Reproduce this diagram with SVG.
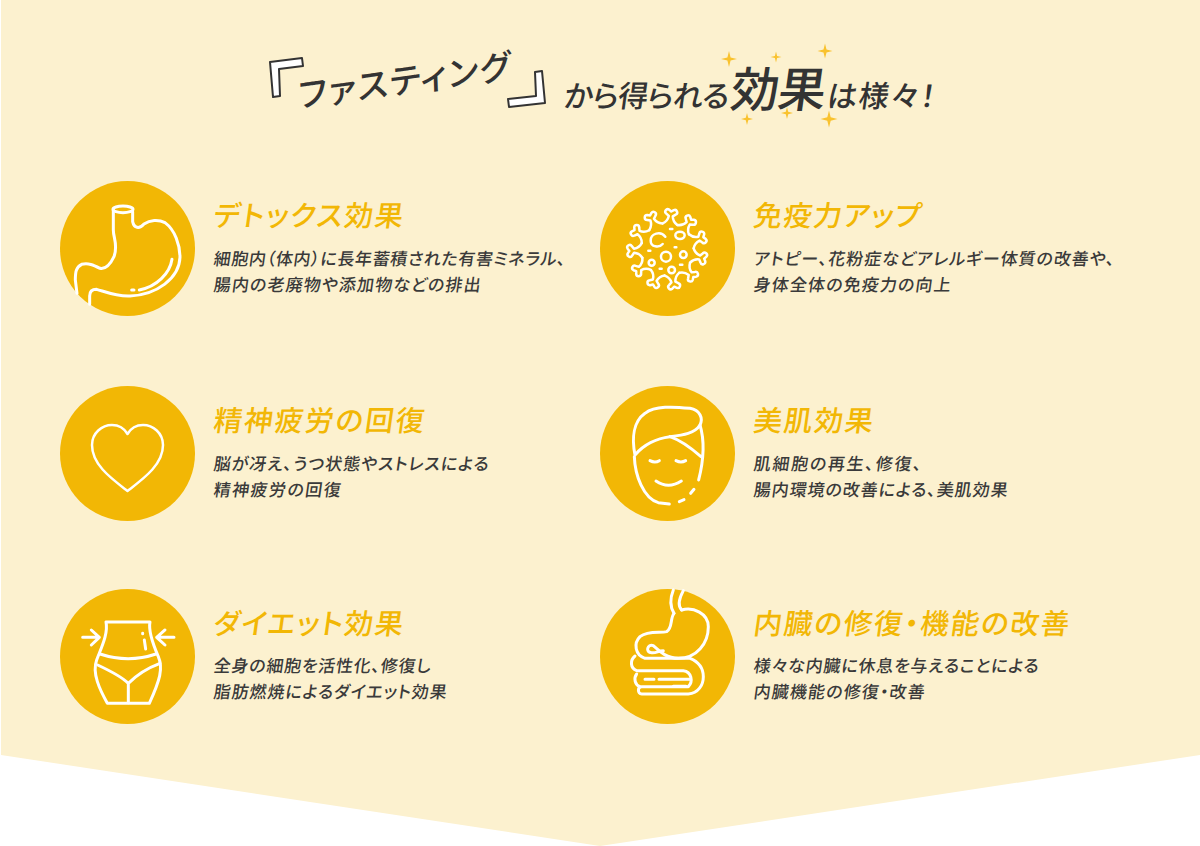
<svg xmlns="http://www.w3.org/2000/svg" xmlns:xlink="http://www.w3.org/1999/xlink" width="1200" height="846" viewBox="0 0 1200 846">
<style>
text{font-family:"Noto Sans CJK JP","Noto Sans",sans-serif;font-feature-settings:"palt"}
.h{font-size:28.500px;fill:#f2b705;font-weight:500}
.b{font-size:17px;fill:#3a3a3a;font-weight:500}
.t{fill:#333;font-weight:500}
.c{fill:#f2b705}
.i{fill:none;stroke:#fff;stroke-width:9;stroke-linecap:round;stroke-linejoin:round}
.s{fill:#f9c22e}
.br{fill:#fff;stroke:#333;stroke-width:2;stroke-linejoin:round}
</style>
<defs>
<path id="spike" d="M-22,-76 Q-8,-84 -6,-100 L-14,-106 A7,7 0 0 1 -7,-119 L0,-114 L7,-119 A7,7 0 0 1 14,-106 L6,-100 Q8,-84 22,-76"/>
<path id="sp" d="M0,-1L.2,-.2L1,0L.2,.2L0,1L-.2,.2L-1,0L-.2,-.2Z"/>
</defs>
<polygon points="1,0 1200,0 1200,755 600,846 1,755" fill="#fcf1cf"/>
<g id="title">
<path class="br" d="M270,62L302,58L303,66L279,69L280,96L273,97Z"/>
<path class="br" d="M535,72L542,71L545,103L509,107L508,99L536,96Z"/>
<text class="t" font-size="34" font-weight="700" transform="translate(299,108) rotate(-8) skewX(-6)" textLength="214">ファスティング</text>
<text class="t" font-size="30" transform="translate(563,107) skewX(-8)" textLength="165">から得られる</text>
<text class="t" font-size="48" font-weight="700" transform="translate(729,107) skewX(-8)" textLength="95">効果</text>
<text class="t" font-size="30" transform="translate(826,107) skewX(-8)" textLength="108">は様々！</text>
<g class="s">
<use xlink:href="#sp" transform="translate(729,59) scale(8)"/><use xlink:href="#sp" transform="translate(776,57) scale(5.500)"/><use xlink:href="#sp" transform="translate(825,51) scale(7.500)"/>
<use xlink:href="#sp" transform="translate(747,119) scale(6)"/><use xlink:href="#sp" transform="translate(787,113) scale(6)"/><use xlink:href="#sp" transform="translate(829,119) scale(8.500)"/>
</g>
</g>
<g id="node-detox">
<circle class="c" cx="127.500" cy="248.500" r="67.500"/>
<g class="i" transform="translate(50,170) scale(.3333)">
<ellipse cx="219" cy="118" rx="30" ry="10"/>
<path d="M190,120V180C190,205 205,225 192,260C180,285 165,298 150,295C130,285 115,278 95,283C78,292 76,305 76,330L81,370"/>
<path d="M248,125V155C252,175 268,178 282,162C300,150 325,148 345,158C375,180 390,225 390,262C388,325 320,375 240,378C200,380 165,365 140,358C125,358 119,365 119,378V403"/>
<path d="M366,268C360,310 320,350 268,360M245,360H252"/>
</g>
<text class="h" transform="translate(212.500,226) skewX(-8)" textLength="189.500">デトックス効果</text>
<text class="b" transform="translate(213,265) skewX(-8)" textLength="352">細胞内（体内）に長年蓄積された有害ミネラル、</text>
<text class="b" transform="translate(213,291) skewX(-8)" textLength="267">腸内の老廃物や添加物などの排出</text>
</g>
<g id="node-immune">
<circle class="c" cx="667.500" cy="248.500" r="67.500"/>
<g class="i" style="stroke-width:7.500" transform="translate(590,170) scale(.3333)">
<g transform="translate(232,238)">
<use xlink:href="#spike" transform="rotate(6)"/><use xlink:href="#spike" transform="rotate(38.700)"/><use xlink:href="#spike" transform="rotate(71.400)"/><use xlink:href="#spike" transform="rotate(104.100)"/><use xlink:href="#spike" transform="rotate(136.800)"/><use xlink:href="#spike" transform="rotate(169.500)"/><use xlink:href="#spike" transform="rotate(202.200)"/><use xlink:href="#spike" transform="rotate(234.900)"/><use xlink:href="#spike" transform="rotate(267.600)"/><use xlink:href="#spike" transform="rotate(300.300)"/><use xlink:href="#spike" transform="rotate(333)"/>
</g>
<path d="M226,200C212,182 182,190 182,212C182,232 208,234 218,222"/>
<ellipse cx="270" cy="196" rx="14" ry="11"/><circle cx="228" cy="260" r="15"/><circle cx="280" cy="254" r="10"/><circle cx="185" cy="278" r="9"/><circle cx="245" cy="300" r="10"/>
<path d="M240,177H247M175,242H181M254,232H259M209,296H215M270,284H277"/>
</g>
<text class="h" transform="translate(752.500,226) skewX(-8)" textLength="167.500">免疫力アップ</text>
<text class="b" transform="translate(753,265) skewX(-8)" textLength="361">アトピー、花粉症などアレルギー体質の改善や、</text>
<text class="b" transform="translate(753,291) skewX(-8)" textLength="197">身体全体の免疫力の向上</text>
</g>
<g id="node-mental">
<circle class="c" cx="127.500" cy="453.500" r="67.500"/>
<path d="M127.500,491C112,479 92,465 92,445C92,433 102,425 112,425C119,425 124,428 127.500,434C131,428 136,425 143,425C153,425 163,433 163,445C163,465 143,479 127.500,491Z" fill="none" stroke="#fff" stroke-width="2.500" stroke-linejoin="round"/>
<text class="h" transform="translate(212.500,431) skewX(-8)" textLength="210.500">精神疲労の回復</text>
<text class="b" transform="translate(213,470) skewX(-8)" textLength="275">脳が冴え、うつ状態やストレスによる</text>
<text class="b" transform="translate(213,496) skewX(-8)" textLength="127">精神疲労の回復</text>
</g>
<g id="node-beauty">
<circle class="c" cx="667.500" cy="453.500" r="67.500"/>
<g class="i" transform="translate(590,375) scale(.3333)">
<path d="M135,240C125,190 130,140 165,115C195,92 250,95 300,100C330,105 340,130 330,150C315,175 280,180 240,185C200,190 160,210 135,240Z"/>
<path d="M240,185C270,195 310,225 333,245M330,150C345,200 340,260 326,315M133,245C135,300 160,370 205,383L238,387M268,380L282,374M302,355L312,343M180,257Q195,265 208,257M258,257Q273,265 287,257M198,318Q235,343 274,318"/>
</g>
<text class="h" transform="translate(752.500,431) skewX(-8)" textLength="119.500">美肌効果</text>
<text class="b" transform="translate(753,470) skewX(-8)" textLength="168">肌細胞の再生、修復、</text>
<text class="b" transform="translate(753,496) skewX(-8)" textLength="254">腸内環境の改善による、美肌効果</text>
</g>
<g id="node-diet">
<circle class="c" cx="127.500" cy="656.500" r="67.500"/>
<g class="i" transform="translate(50,580) scale(.3333)">
<path d="M168,126H300C295,150 310,195 325,230C340,265 330,300 298,370H172C150,330 125,280 140,240C155,200 175,160 168,126Z"/>
<path d="M150,222Q235,250 318,222M143,255C175,270 215,290 235,310C255,290 290,265 330,250M235,310V368M98,172H148M124,150L148,172L124,195M372,172H320M345,150L320,172L345,195M278,160V161M283,180L287,207"/>
</g>
<text class="h" transform="translate(212.500,634) skewX(-8)" textLength="189.500">ダイエット効果</text>
<text class="b" transform="translate(213,672) skewX(-8)" textLength="217">全身の細胞を活性化、修復し</text>
<text class="b" transform="translate(213,698) skewX(-8)" textLength="233">脂肪燃焼によるダイエット効果</text>
</g>
<g id="node-organs">
<circle class="c" cx="667.500" cy="656.500" r="67.500"/>
<g class="i" transform="translate(590,580) scale(.3333)">
<path d="M250,30C240,55 240,80 252,100M280,32C265,60 265,80 275,90"/>
<path d="M252,100C240,115 248,145 230,155C210,160 175,150 150,170C130,190 135,225 165,235H300C325,245 340,265 340,290C340,315 325,340 295,342H155C142,342 142,320 155,320H295C310,305 305,275 280,272H140C120,265 120,240 135,228"/>
<path d="M275,90C310,80 355,100 355,140C355,190 320,235 265,235C230,235 210,215 190,197C172,190 165,218 185,218C198,220 205,212 220,212"/>
<path d="M140,282C130,295 135,315 150,320M165,298H192M207,298H300M250,319H288"/>
</g>
<text class="h" transform="translate(752.500,634) skewX(-8)" textLength="315.500">内臓の修復・機能の改善</text>
<text class="b" transform="translate(753,672) skewX(-8)" textLength="285">様々な内臓に休息を与えることによる</text>
<text class="b" transform="translate(753,698) skewX(-8)" textLength="171">内臓機能の修復・改善</text>
</g>
</svg>
